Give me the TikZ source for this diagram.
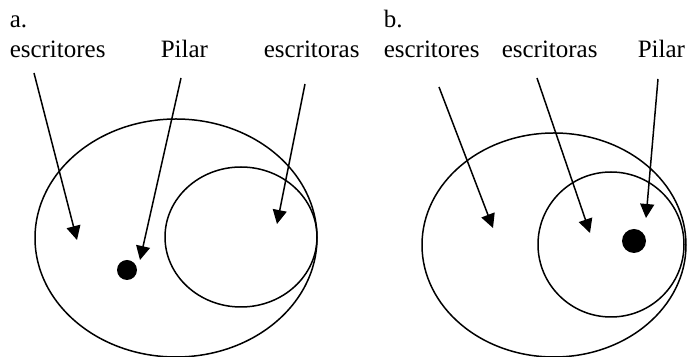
\documentclass[tikz,border=0pt]{standalone}
\usepackage{fontspec}
\setmainfont{Liberation Serif}
\usetikzlibrary{arrows.meta}

\tikzset{
  lbl/.style={anchor=base west, inner sep=0pt, font=\fontsize{12.5}{15}\selectfont},
  pointer/.style={-{Triangle[length=7pt,width=7pt]}},
  member/.style={circle, fill=black, draw=none, inner sep=0pt},
}

\begin{document}
\begin{tikzpicture}[x=0.5pt,y=-0.5pt,line width=0.75pt]
        \useasboundingbox (0,0) rectangle (687,357);
        % panel a
        \node[lbl] (a-title) at (9,28) {a.};
        \node[lbl] (a-writers) at (9,57.5) {escritores};
        \node[lbl] (a-pilar) at (160,57.5) {Pilar};
        \node[lbl] (a-women) at (263,57.5) {escritoras};
        \draw (176,238) ellipse (70.5pt and 59.5pt);
        \draw (241,237) ellipse (38pt and 35pt);
        \node[member,minimum size=10pt] (a-dot) at (127,270) {};
        \coordinate (a-writers-from) at (34,73);
        \coordinate (a-writers-to) at (77,240);
        \coordinate (a-pilar-from) at (181,78);
        \coordinate (a-pilar-to) at (140,260);
        \coordinate (a-women-from) at (305,84);
        \coordinate (a-women-to) at (277,224);
        % panel b
        \node[lbl] (b-title) at (383,28) {b.};
        \node[lbl] (b-writers) at (383,57.5) {escritores};
        \node[lbl] (b-women) at (501,57.5) {escritoras};
        \node[lbl] (b-pilar) at (637,57.5) {Pilar};
        \draw (554,245) ellipse (66pt and 56pt);
        \draw (611,244.5) ellipse (36.5pt and 36.25pt);
        \node[member,minimum size=12pt] (b-dot) at (634,241) {};
        \coordinate (b-writers-from) at (439,87);
        \coordinate (b-writers-to) at (493,228);
        \coordinate (b-women-from) at (537,78);
        \coordinate (b-women-to) at (590,233);
        \coordinate (b-pilar-from) at (658,79);
        \coordinate (b-pilar-to) at (646,218);
        % arrows
        \foreach \p in {a-writers, a-pilar, a-women, b-writers, b-women, b-pilar} {
            \draw[pointer] (\p-from) -- (\p-to);
        }
    \end{tikzpicture}
\end{document}
